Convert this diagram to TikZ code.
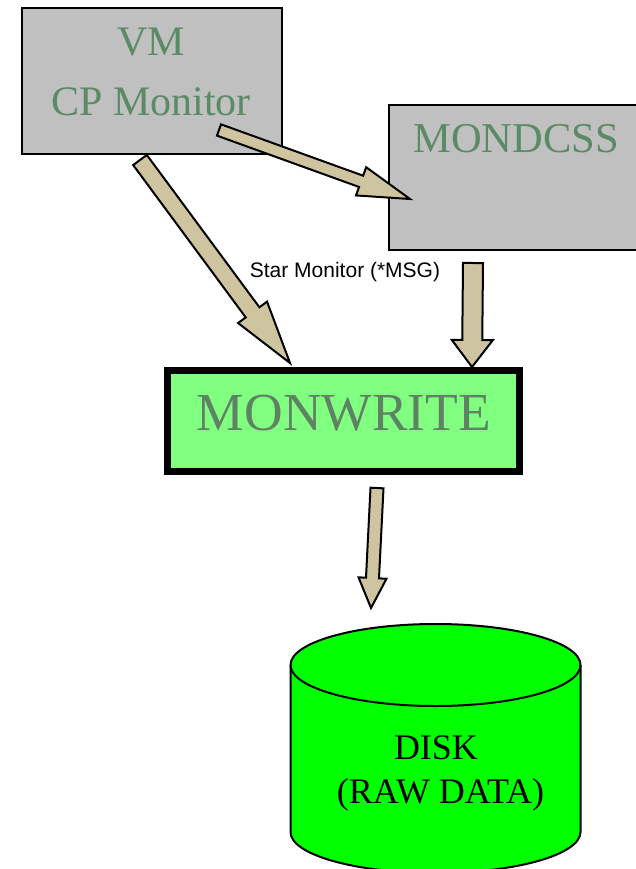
\documentclass[tikz,border=0pt]{standalone}
\usepackage{fontspec}
\setmainfont{Liberation Serif}
\setsansfont{Liberation Sans}
\usetikzlibrary{calc}
\definecolor{boxgray}{RGB}{192,192,192}
\definecolor{labelgreen}{RGB}{90,138,102}
\definecolor{writegreen}{RGB}{128,255,128}
\definecolor{writelabel}{RGB}{96,130,100}
\definecolor{disklime}{RGB}{0,255,0}
\definecolor{arrowtan}{RGB}{206,196,160}
\tikzset{
BOX/.style={draw=black, line width=2pt, fill=boxgray, inner sep=0pt},
WRITEBOX/.style={draw=black, line width=6.5pt, fill=writegreen, inner sep=0pt},
LABEL/.style={text=labelgreen, inner sep=0pt, align=center},
DISK/.style={draw=black, line width=2pt, fill=disklime},
BLOCK/.style={draw=black, line width=2pt, fill=arrowtan, line join=miter},
}
% tail, tip, half shaft, half head, head length
\newcommand{\blockarrow}[5]{%
  \coordinate (headbase) at ($(#2)!#5!(#1)$);
  \path[BLOCK] ($(#1)!#3!90:(#2)$) -- ($(headbase)!#3!-90:(#1)$)
    -- ($(headbase)!#4!-90:(#1)$) -- (#2) -- ($(headbase)!#4!90:(#1)$)
    -- ($(headbase)!#3!90:(#1)$) -- ($(#1)!#3!-90:(#2)$) -- cycle;}

\begin{document}
\begin{tikzpicture} %MONWRITE data flow
[x=1pt, y=-1pt]
	\useasboundingbox (0,0) rectangle (635,869);
	\node[BOX, minimum width=260pt, minimum height=146pt] (vm) at (152,81) {};
	\node[LABEL, font=\fontsize{42}{60}\selectfont] (vmlabel) at (151,72) {VM\\CP Monitor};
	\node[BOX, minimum width=257pt, minimum height=145pt, anchor=north west] (mondcss) at (388,104) {};
	\node[LABEL, font=\fontsize{42.5}{50}\selectfont] (mondcsslabel) at (516,139) {MONDCSS};
	\node[WRITEBOX, minimum width=352pt, minimum height=101pt] (monwrite) at (343.5,421) {};
	\node[LABEL, text=writelabel, font=\fontsize{53.5}{64}\selectfont] (monwritelabel) at (344,413) {MONWRITE};
	\path[DISK] (290.5,665) -- (290.5,832) arc[start angle=180, end angle=360, x radius=145pt, y radius=41pt]
		-- (580.5,665) arc[start angle=0, end angle=180, x radius=145pt, y radius=41pt] -- cycle;
	\path[DISK, fill=none] (290.5,665) arc[start angle=180, end angle=360, x radius=145pt, y radius=41pt];
	\node[inner sep=0pt, align=center, font=\fontsize{36}{44}\selectfont] (disk) at (436,773) {DISK\\\ (RAW DATA)};
	\node[inner sep=0pt, font=\sffamily\fontsize{21}{25}\selectfont] (msg) at (345,272.5) {Star Monitor (*MSG)};
	% arrow ends
	\coordinate (vmdown) at (140,160);
	\coordinate (writein) at (290,363);
	\coordinate (vmright) at (219,130);
	\coordinate (mondcssin) at (410,199);
	\coordinate (mondcssout) at (473,263);
	\coordinate (writeright) at (472,367);
	\coordinate (writeout) at (377,488);
	\coordinate (diskin) at (371,608);
	\blockarrow{vmdown}{writein}{8.5pt}{18pt}{63pt}
	\blockarrow{vmright}{mondcssin}{6pt}{15pt}{52pt}
	\blockarrow{mondcssout}{writeright}{10pt}{20.5pt}{27pt}
	\blockarrow{writeout}{diskin}{6.5pt}{14pt}{30pt}
\end{tikzpicture}
\end{document}
